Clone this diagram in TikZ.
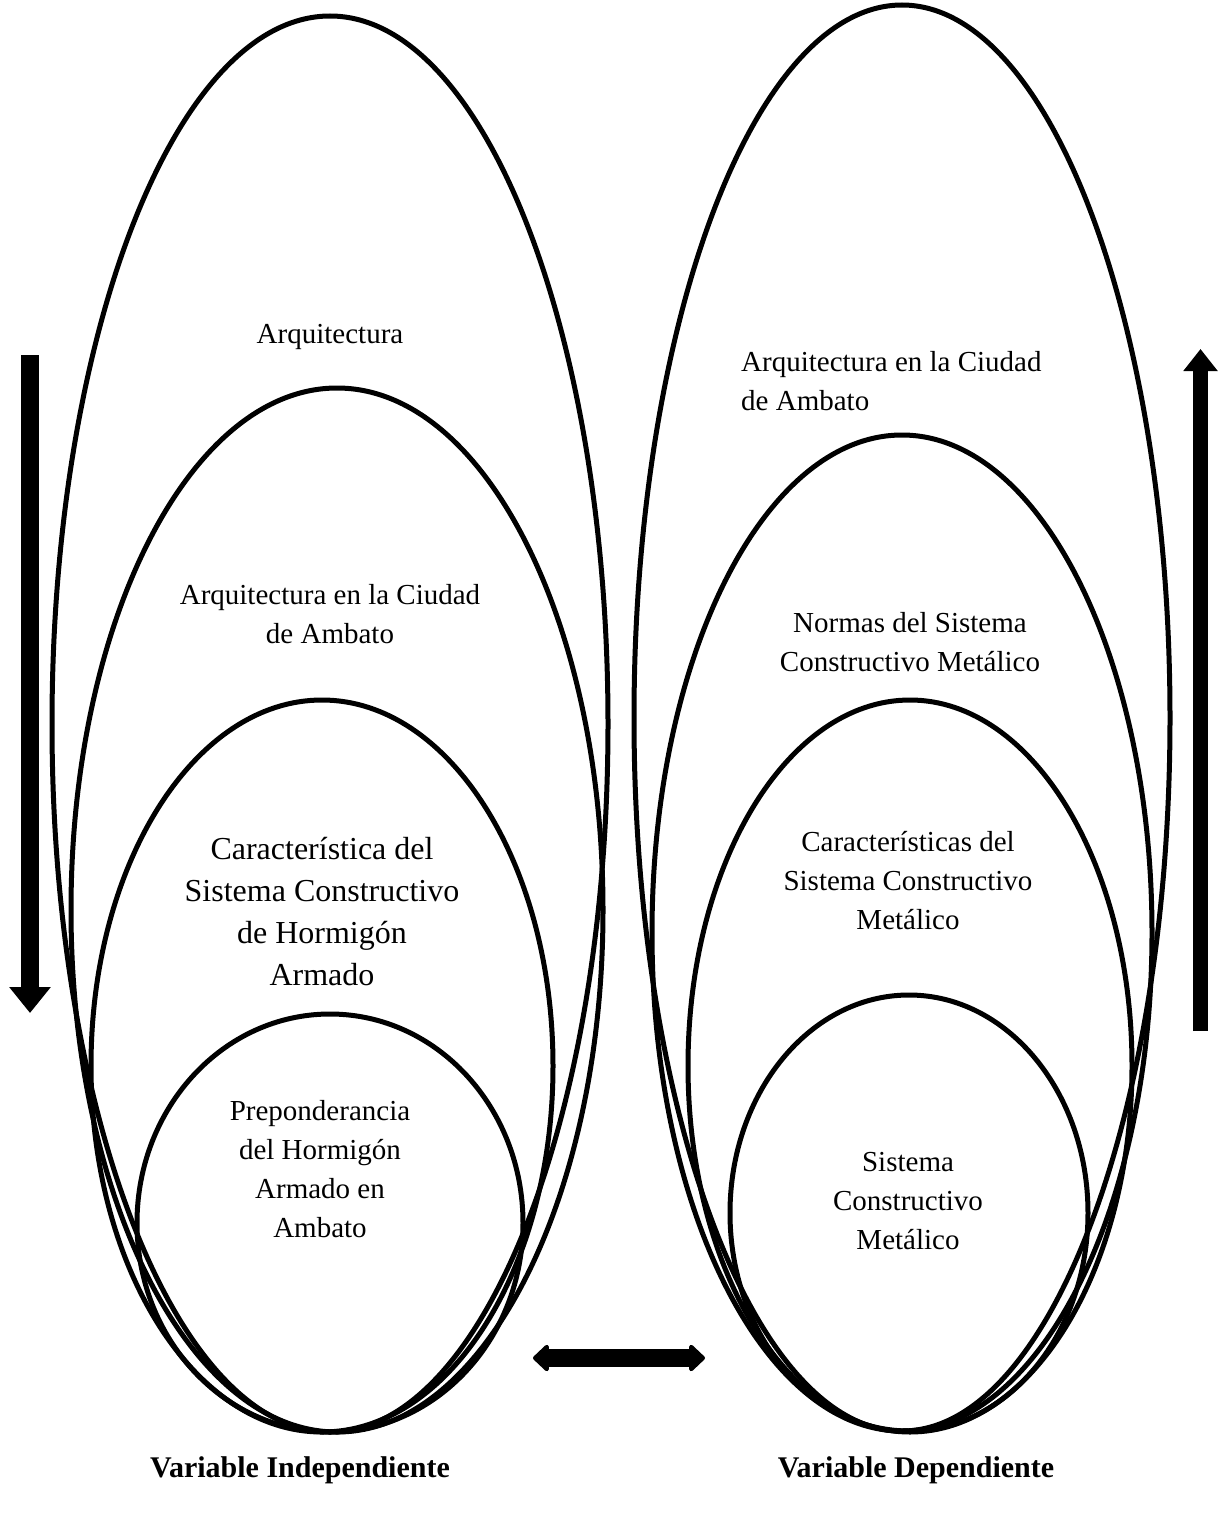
\documentclass[tikz,border=0pt]{standalone}
\usepackage{fontspec}
\setmainfont{Liberation Serif}
\usetikzlibrary{shapes.geometric,arrows.meta}
\begin{document}
\begin{tikzpicture}[x=1pt,y=-1pt,
  ell/.style={draw,ellipse,line width=5pt,inner sep=0pt},
  txt/.style={font=\fontsize{29}{39}\selectfont,align=center,inner sep=0pt},
  bigtxt/.style={font=\fontsize{32}{42}\selectfont,align=center,inner sep=0pt},
  lbl/.style={font=\fontsize{30}{36}\selectfont\bfseries,inner sep=0pt}
]
\useasboundingbox (0,0) rectangle (1218,1515);
% left group
\node[ell,minimum width=556pt,minimum height=1416pt] (L1) at (330,724) {};
\node[ell,minimum width=532pt,minimum height=1044pt] (L2) at (337,910) {};
\node[ell,minimum width=462pt,minimum height=732pt] (L3) at (322,1066) {};
\node[ell,minimum width=386pt,minimum height=418pt] (L4) at (330,1223) {};
% right group
\node[ell,minimum width=536pt,minimum height=1426pt] (R1) at (902,718) {};
\node[ell,minimum width=500pt,minimum height=996pt] (R2) at (902,933) {};
\node[ell,minimum width=444pt,minimum height=732pt] (R3) at (910,1066) {};
\node[ell,minimum width=358pt,minimum height=436pt] (R4) at (909,1213) {};
% texts
\node[txt] (tA) at (330,337) {Arquitectura};
\node[txt] (tB) at (330,614) {Arquitectura en la Ciudad\\de Ambato};
\node[bigtxt] (tC) at (322,912) {Característica del\\Sistema Constructivo\\de Hormigón\\Armado};
\node[txt] (tD) at (320,1169) {Preponderancia\\del Hormigón\\Armado en\\Ambato};
\node[txt,align=left,anchor=west] (tE) at (741,381) {Arquitectura en la Ciudad\\de Ambato};
\node[txt] (tF) at (910,642) {Normas del Sistema\\Constructivo Metálico};
\node[txt] (tG) at (908,881) {Características del\\Sistema Constructivo\\Metálico};
\node[txt] (tH) at (908,1201) {Sistema\\Constructivo\\Metálico};
\node[lbl] (vi) at (300,1470) {Variable Independiente};
\node[lbl] (vd) at (916,1470) {Variable Dependiente};
% arrows
\coordinate (la1) at (30,355);
\coordinate (la2) at (30,1013);
\draw[line width=18.5pt,-{Triangle[width=40pt,length=26pt]}] (la1) -- (la2);
\coordinate (ra1) at (1200.5,1031);
\coordinate (ra2) at (1200.5,349);
\draw[line width=15.5pt,-{Triangle[width=33pt,length=22pt]}] (ra1) -- (ra2);
\coordinate (da1) at (533,1358);
\coordinate (da2) at (705,1358);
\draw[line width=18pt,{Triangle[width=31pt,length=17pt,round]}-{Triangle[width=31pt,length=17pt,round]}] (da1) -- (da2);
\end{tikzpicture}
\end{document}
